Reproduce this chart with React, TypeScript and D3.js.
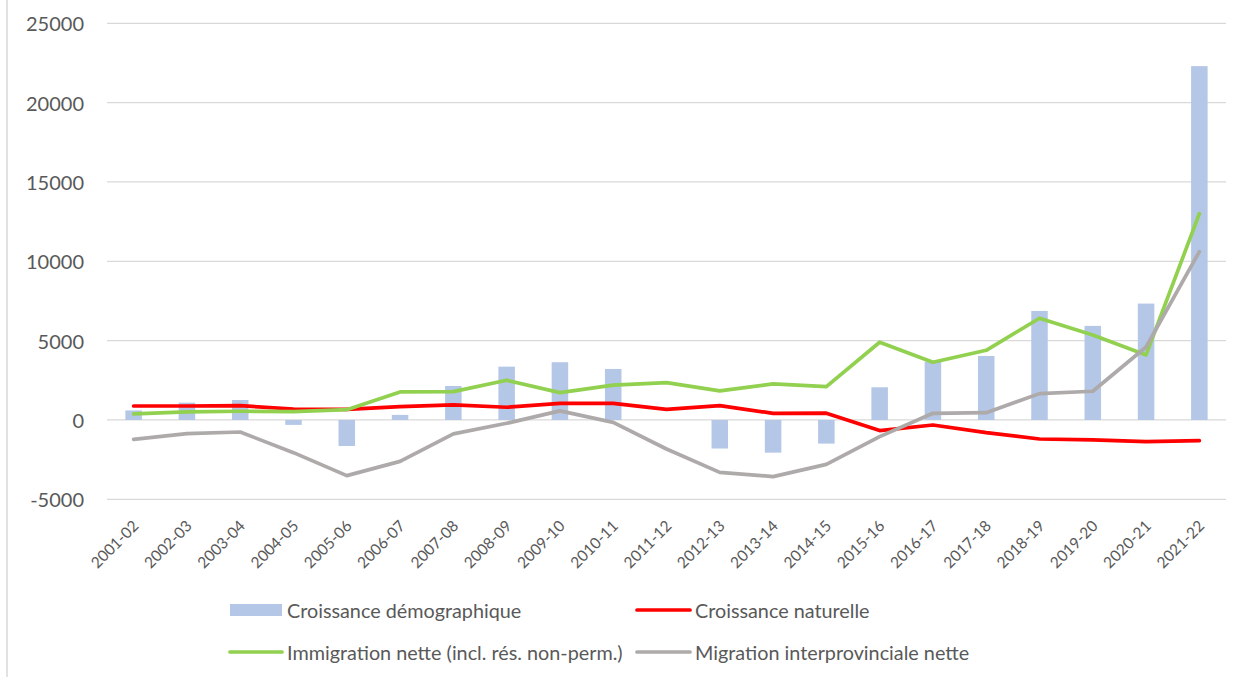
import React from 'react';
import * as d3 from 'd3';

const categories = [
  '2001-02', '2002-03', '2003-04', '2004-05', '2005-06', '2006-07', '2007-08',
  '2008-09', '2009-10', '2010-11', '2011-12', '2012-13', '2013-14', '2014-15',
  '2015-16', '2016-17', '2017-18', '2018-19', '2019-20', '2020-21', '2021-22',
];

// Croissance démographique (barres)
const croissanceDemo = [
  600, 1090, 1260, -310, -1640, 320, 2140, 3360, 3640, 3215, 0,
  -1800, -2060, -1490, 2060, 3680, 4035, 6870, 5930, 7335, 22300,
];
// Croissance naturelle
const croissanceNat = [
  880, 880, 900, 690, 670, 840, 945, 800, 1050, 1050, 670,
  900, 420, 430, -670, -315, -800, -1200, -1260, -1370, -1300,
];
// Immigration nette (incl. rés. non-perm.)
const immigration = [
  380, 505, 550, 525, 650, 1765, 1785, 2500, 1720, 2200, 2355,
  1830, 2270, 2100, 4900, 3640, 4390, 6410, 5360, 4100, 13000,
];
// Migration interprovinciale nette
const interprov = [
  -1220, -860, -760, -2060, -3510, -2610, -880, -210, 570, -150, -1830,
  -3300, -3570, -2800, -1050, 420, 460, 1660, 1810, 4600, 10610,
];

const yTicks = [-5000, 0, 5000, 10000, 15000, 20000, 25000];

const FONT = 'Lato, Carlito, Calibri, sans-serif';
const TEXT = '#595959';
const GRID = '#d9d9d9';

const lineSeries = [
  { name: 'Croissance naturelle', values: croissanceNat, color: '#ff0000' },
  { name: 'Immigration nette (incl. rés. non-perm.)', values: immigration, color: '#92d050' },
  { name: 'Migration interprovinciale nette', values: interprov, color: '#aeaaaa' },
];

const App: React.FC = () => {
  const width = 1244;
  const height = 677;

  const x = d3.scaleBand<string>().domain(categories).range([107, 1226]).padding(0);
  const y = d3.scaleLinear().domain([-5000, 25000]).range([499.3, 23.3]);
  const cx = (c: string) => (x(c) as number) + x.bandwidth() / 2;
  const barW = x.bandwidth() * 0.31;

  const line = d3
    .line<number>()
    .x((_, i) => cx(categories[i]))
    .y((d) => y(d));

  return (
    <svg
      width={width}
      height={height}
      style={{ position: 'absolute', left: 0, top: 0, background: '#fff' }}
      fontFamily={FONT}
    >
      <line x1={7} x2={7} y1={0} y2={height} stroke={GRID} strokeWidth={1.5} />

      {/* grid + y labels */}
      {yTicks.map((t) => (
        <g key={t}>
          <line x1={107} x2={1226} y1={y(t)} y2={y(t)} stroke={GRID} strokeWidth={1.3} />
          <text
            x={84}
            y={y(t)}
            textAnchor="end"
            dominantBaseline="central"
            fontSize={20}
            fill={TEXT}
          >
            {t}
          </text>
        </g>
      ))}

      {/* bars */}
      {categories.map((c, i) => {
        const v = croissanceDemo[i];
        return (
          <rect
            key={c}
            x={cx(c) - barW / 2}
            y={Math.min(y(v), y(0))}
            width={barW}
            height={Math.abs(y(v) - y(0))}
            fill="#b4c7e7"
          />
        );
      })}

      {/* lines */}
      {lineSeries.map((s) => (
        <path
          key={s.name}
          d={line(s.values) || ''}
          fill="none"
          stroke={s.color}
          strokeWidth={3.7}
          strokeLinejoin="round"
          strokeLinecap="round"
        />
      ))}

      {/* x labels */}
      {categories.map((c) => (
        <text
          key={c}
          transform={`translate(${cx(c) + 6},${527}) rotate(-45)`}
          textAnchor="end"
          fontSize={15.5}
          fill={TEXT}
        >
          {c}
        </text>
      ))}

      {/* legend */}
      <g fontSize={19.8} fill={TEXT}>
        <rect x={230} y={604} width={52} height={12} fill="#b4c7e7" />
        <text x={287} y={610} dominantBaseline="central">Croissance démographique</text>

        <line x1={637} x2={690} y1={610} y2={610} stroke="#ff0000" strokeWidth={3.7} strokeLinecap="round" />
        <text x={695} y={610} dominantBaseline="central">Croissance naturelle</text>

        <line x1={230} x2={282} y1={652} y2={652} stroke="#92d050" strokeWidth={3.7} strokeLinecap="round" />
        <text x={287} y={652} dominantBaseline="central">Immigration nette (incl. rés. non-perm.)</text>

        <line x1={637} x2={690} y1={652} y2={652} stroke="#aeaaaa" strokeWidth={3.7} strokeLinecap="round" />
        <text x={695} y={652} dominantBaseline="central">Migration interprovinciale nette</text>
      </g>
    </svg>
  );
};

export default App;
